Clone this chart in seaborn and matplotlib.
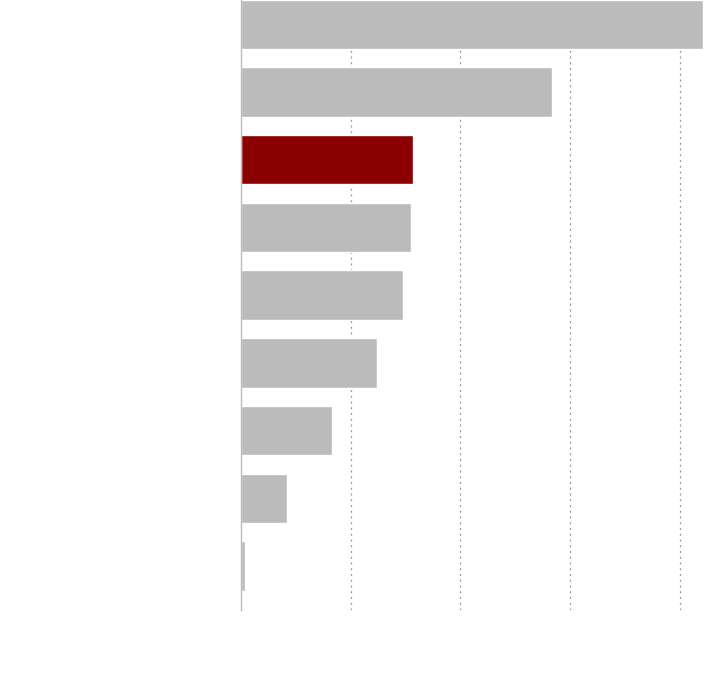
import pandas as pd
import matplotlib
matplotlib.use('Agg')
import matplotlib.pyplot as plt
import seaborn as sns

categories = ['A', 'B', 'C', 'D', 'E', 'F', 'G', 'H', 'I']
values = [42.1, 28.35, 15.7, 15.5, 14.8, 12.4, 8.3, 4.2, 0.35]
highlight = 'C'

df = pd.DataFrame({'category': categories, 'value': values})
colors = {c: ('#8b0000' if c == highlight else '#bbbbbb') for c in categories}

sns.set_style('white')
fig = plt.figure(figsize=(7.1, 6.9), dpi=100)
ax = fig.add_axes([241 / 710, 80 / 690, 469 / 710, 610 / 690])

sns.barplot(data=df, y='category', x='value', hue='category', palette=colors,
            orient='h', width=0.73, saturation=1, legend=False, ax=ax)

ax.set_xlim(0, 42.75)
ax.set_ylim(8.65, -0.36)
ax.set_xticks([10, 20, 30, 40])
ax.grid(True, axis='x', color='#999999', linestyle=(0, (1.6, 3)), linewidth=0.9)
ax.set_axisbelow(True)
ax.set_xticklabels([])
ax.set_yticklabels([])
ax.tick_params(length=0)
ax.set_xlabel('')
ax.set_ylabel('')
for s in ['top', 'right', 'bottom']:
    ax.spines[s].set_visible(False)
ax.spines['left'].set_color('#bbbbbb')
ax.spines['left'].set_linewidth(1)

plt.savefig('out.png', dpi=100)
